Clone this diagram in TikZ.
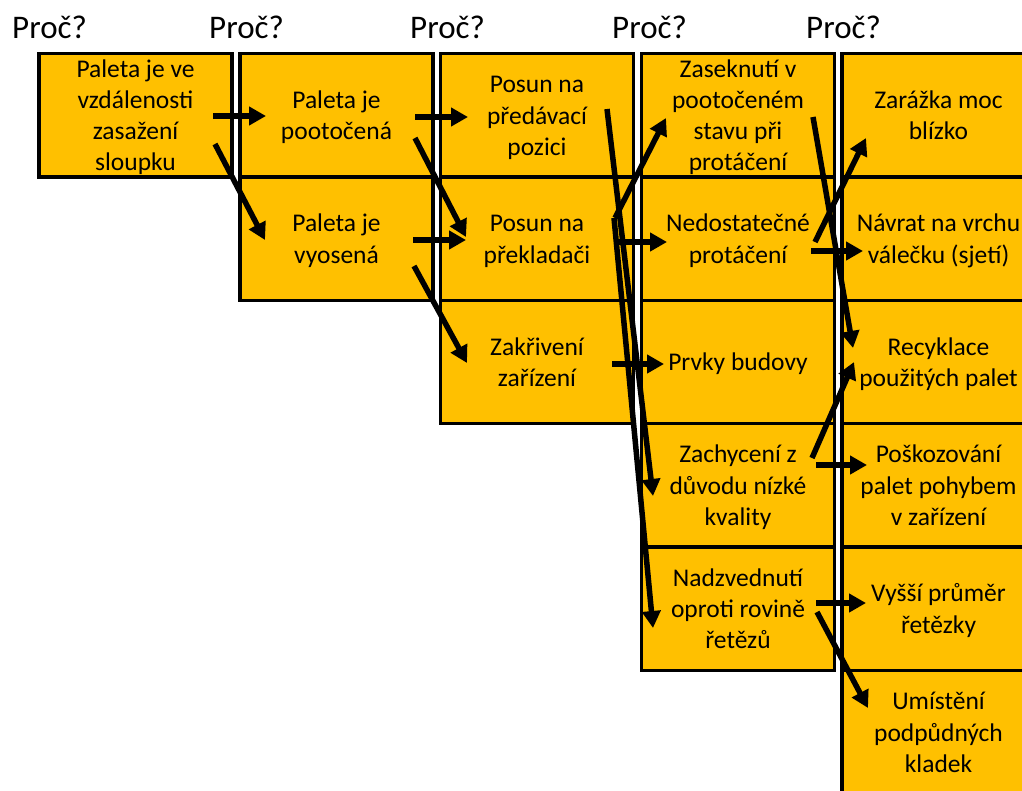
\documentclass[tikz,border=0pt]{standalone}
\usepackage{fontspec}
\setmainfont{Carlito}
\usetikzlibrary{arrows.meta}
\definecolor{gold}{HTML}{FFC000}
\newcommand\boxfont{\fontsize{25.5pt}{31.3pt}\selectfont}
\newcommand\whyfont{\fontsize{33pt}{36pt}\selectfont}
\newcommand\ts{\rule{0pt}{27pt}}
\newcommand\bs{\rule[-9.4pt]{0pt}{9.4pt}}
\tikzset{
  box/.style={draw=black, line width=3.5pt, fill=gold, minimum width=193pt,
    minimum height=123.4pt, inner sep=0pt, outer sep=0pt},
  lbl/.style={align=center, font=\boxfont, text=black, inner sep=0pt, outer sep=0pt},
  why/.style={anchor=base west, inner sep=0pt, font=\whyfont, text=black},
  arr/.style={line width=5.5pt, -{Triangle[length=17pt,width=18pt]}},
}
\begin{document}
\begin{tikzpicture}[x=1pt,y=-1pt]
\useasboundingbox (0,0) rectangle (1022,790);
\clip (0,0) rectangle (1022,790);
\fill[white] (0,0) rectangle (1022,790);
% headers
\node[why] (w1) at (12,38) {Proč?};
\node[why] (w2) at (209,38) {Proč?};
\node[why] (w3) at (410,38) {Proč?};
\node[why] (w4) at (612,38) {Proč?};
\node[why] (w5) at (806,38) {Proč?};
% column 1
\node[box, label={[lbl]center:{\ts Paleta je ve\\vzdálenosti\\zasažení\\sloupku\bs}}] (c1r1) at (135.5,115.2) {};
% column 2
\node[box, label={[lbl]center:{\ts Paleta je\\pootočená\bs}}] (c2r1) at (336.5,115.2) {};
\node[box, label={[lbl]center:{\ts Paleta je\\vyosená\bs}}] (c2r2) at (336.5,238.6) {};
% column 3
\node[box, label={[lbl]center:{\ts Posun na\\předávací\\pozici\bs}}] (c3r1) at (537,115.2) {};
\node[box, label={[lbl]center:{\ts Posun na\\překladači\bs}}] (c3r2) at (537,238.6) {};
\node[box, label={[lbl]center:{\ts Zakřivení\\zařízení\bs}}] (c3r3) at (537,362) {};
% column 4
\node[box, label={[lbl]center:{\ts Zaseknutí v\\pootočeném\\stavu při\\protáčení\bs}}] (c4r1) at (738,115.2) {};
\node[box, label={[lbl]center:{\ts Nedostatečné\\protáčení\bs}}] (c4r2) at (738,238.6) {};
\node[box, label={[lbl]center:{\ts Prvky budovy\bs}}] (c4r3) at (738,362) {};
\node[box, label={[lbl]center:{\ts Zachycení z\\důvodu nízké\\kvality\bs}}] (c4r4) at (738,485.4) {};
\node[box, label={[lbl]center:{\ts Nadzvednutí\\oproti rovině\\řetězů\bs}}] (c4r5) at (738,608.8) {};
% column 5
\node[box, label={[lbl]center:{\ts Zarážka moc\\blízko\bs}}] (c5r1) at (938.5,115.2) {};
\node[box, label={[lbl]center:{\ts Návrat na vrchu\\válečku (sjetí)\bs}}] (c5r2) at (938.5,238.6) {};
\node[box, label={[lbl]center:{\ts Recyklace\\použitých palet\bs}}] (c5r3) at (938.5,362) {};
\node[box, label={[lbl]center:{\ts Poškozování\\palet pohybem\\v zařízení\bs}}] (c5r4) at (938.5,485.4) {};
\node[box, label={[lbl]center:{\ts Vyšší průměr\\řetězky\bs}}] (c5r5) at (938.5,608.8) {};
\node[box, label={[lbl]center:{\ts Umístění\\podpůdných\\kladek\bs}}] (c5r6) at (938.5,732.2) {};
% arrows
\draw[arr] ([shift={(77.5,0.8)}]c1r1.center) -- ([shift={(-70.5,0.8)}]c2r1.center);
\draw[arr] ([shift={(79.5,28.8)}]c1r1.center) -- ([shift={(-71.5,1.4)}]c2r2.center);
\draw[arr] ([shift={(78.5,1.8)}]c2r1.center) -- ([shift={(-69,1.8)}]c3r1.center);
\draw[arr] ([shift={(78.5,22.8)}]c2r1.center) -- ([shift={(-71,-1.6)}]c3r2.center);
\draw[arr] ([shift={(76.5,1.4)}]c2r2.center) -- ([shift={(-71,1.4)}]c3r2.center);
\draw[arr] ([shift={(77.5,27.4)}]c2r2.center) -- ([shift={(-70,1)}]c3r3.center);
\draw[arr] ([shift={(70,-6.2)}]c3r1.center) -- ([shift={(-85,10.6)}]c4r4.center);
\draw[arr] ([shift={(77,-20.6)}]c3r2.center) -- ([shift={(-85,19.2)}]c4r5.center);
\draw[arr] ([shift={(78,-20.6)}]c3r2.center) -- ([shift={(-72,2.8)}]c4r1.center);
\draw[arr] ([shift={(77,3.4)}]c3r2.center) -- ([shift={(-71,3.4)}]c4r2.center);
\draw[arr] ([shift={(75,2)}]c3r3.center) -- ([shift={(-74,2)}]c4r3.center);
\draw[arr] ([shift={(75,1.8)}]c4r1.center) -- ([shift={(-85.5,-14)}]c5r3.center);
\draw[arr] ([shift={(77,3.4)}]c4r2.center) -- ([shift={(-72.5,22.8)}]c5r1.center);
\draw[arr] ([shift={(73,12.4)}]c4r2.center) -- ([shift={(-75.5,12.4)}]c5r2.center);
\draw[arr] ([shift={(74,-27.4)}]c4r4.center) -- ([shift={(-84.5,0)}]c5r3.center);
\draw[arr] ([shift={(78,-20.4)}]c4r4.center) -- ([shift={(-71.5,-20.4)}]c5r4.center);
\draw[arr] ([shift={(78,-5.8)}]c4r5.center) -- ([shift={(-72.5,-5.8)}]c5r5.center);
\draw[arr] ([shift={(79,3.2)}]c4r5.center) -- ([shift={(-70.5,-24.2)}]c5r6.center);
\end{tikzpicture}
\end{document}
